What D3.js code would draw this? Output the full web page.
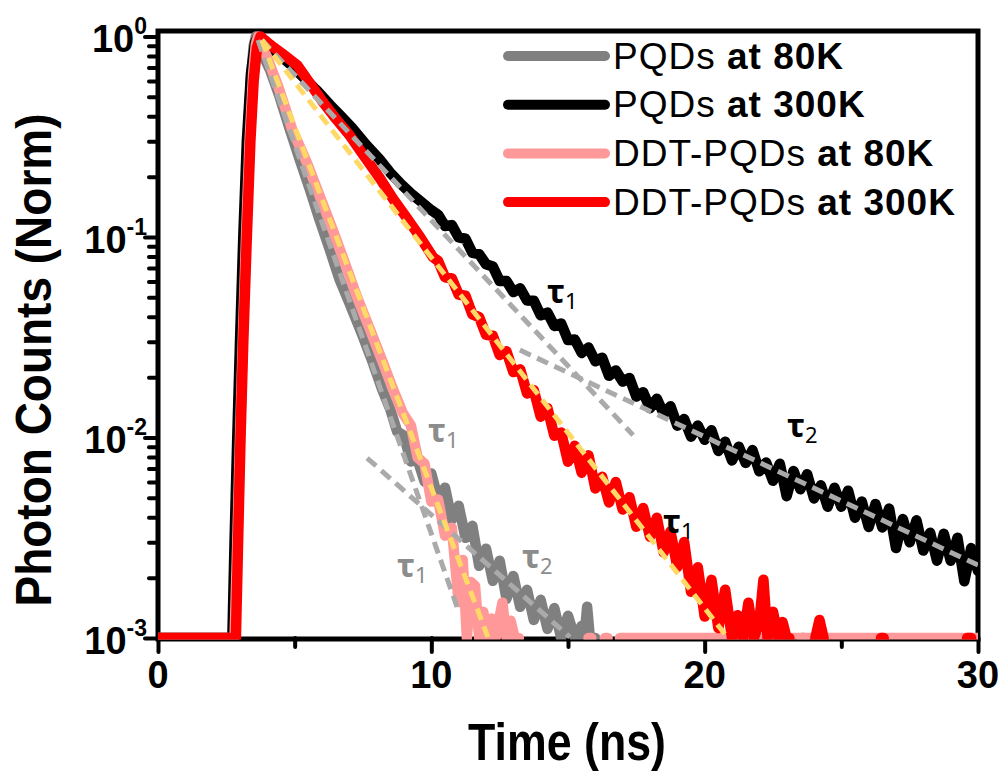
<!DOCTYPE html>
<meta charset="utf-8">
<style>
body { margin: 0; background: #fff; }
svg { display: block; }
</style>
<body>
<script src="https://d3js.org/d3.v7.min.js"></script>
<script>
// ---- data: [time (ns), normalised counts] ----
var pqd80 = [[0,0.001],[2.75,0.001],[2.85,0.003],[2.95,0.01],[3.05,0.03],[3.15,0.1],[3.28,0.3],[3.4,0.62],[3.5,0.9],[3.58,1.0],
  [3.8,0.83],[4.1,0.68],[4.45,0.5],[4.83,0.342],[5.2,0.24],[5.56,0.172],[5.9,0.123],[6.29,0.086],[6.65,0.061],[7.02,0.0462],
  [7.45,0.0331],[7.87,0.0234],[8.2,0.0174],[8.5,0.0138],[8.75,0.0107],[9.0,0.0102],[9.25,0.00759],[9.5,0.00776],[9.75,0.00603],
  [10.0,0.00661],[10.25,0.0049],[10.5,0.00562],[10.75,0.00389],[11.0,0.00457],[11.25,0.00316],[11.5,0.00363],[11.75,0.00229],
  [12.0,0.00279],[12.25,0.00193],[12.5,0.00243],[12.75,0.00157],[13.0,0.00204],[13.25,0.00143],[13.5,0.00174],[13.75,0.00123],
  [14.0,0.00155],[14.25,0.00111],[14.5,0.00141],[14.75,0.001],[15.0,0.00129],[15.25,0.001],[15.5,0.00115],[15.6,0.001],
  [15.7,0.00143],[15.8,0.001],[16.0,0.001],null,[23.55,0.001],[23.65,0.001]];

var pqd300 = [[0,0.001],[2.72,0.001],[2.8,0.003],[2.9,0.01],[3.0,0.03],[3.12,0.1],[3.25,0.3],[3.4,0.65],[3.55,0.93],[3.66,1.0],
  [3.9,0.955],[4.3,0.84],[4.83,0.73],[5.3,0.63],[5.8,0.54],[6.3,0.455],[6.66,0.405],[7.1,0.35],[7.6,0.29],[8.1,0.245],
  [8.5,0.209],[8.85,0.186],[9.25,0.165],[9.65,0.149],[10.0,0.136],
  [10.25,0.129],[10.5,0.1135],[10.75,0.1146],[11.0,0.0995],[11.25,0.098],[11.5,0.0834],[11.75,0.0822],[12.0,0.0731],
  [12.25,0.0713],[12.5,0.0604],[12.75,0.0603],[13.0,0.0531],[13.25,0.0555],[13.5,0.0482],[13.75,0.0481],[14.0,0.0407],
  [14.25,0.042],[14.5,0.036],[14.75,0.037],[15.0,0.0306],[15.25,0.0308],[15.5,0.0264],[15.75,0.0281],[16.0,0.024],
  [16.25,0.025],[16.5,0.0203],[16.75,0.0216],[17.0,0.019],[17.25,0.0198],[17.5,0.016],[17.75,0.0168],[18.0,0.014],
  [18.25,0.0156],[18.5,0.01315],[18.75,0.0143],[19.0,0.01146],[19.25,0.01236],[19.5,0.0101],[19.75,0.01146],[20.0,0.00975],
  [20.25,0.01086],[20.5,0.00857],[20.75,0.00953],[21.0,0.00769],[21.25,0.009],[21.5,0.00746],[21.75,0.00865],[22.0,0.00678],
  [22.25,0.0075],[22.5,0.00608],[22.75,0.0074],[23.0,0.0051],[23.25,0.00681],[23.5,0.00552],[23.75,0.00656],[24.0,0.00497],
  [24.25,0.00577],[24.5,0.00452],[24.75,0.00562],[25.0,0.00452],[25.25,0.00543],[25.5,0.00398],[25.75,0.00479],[26.0,0.00358],
  [26.25,0.00466],[26.5,0.00356],[26.75,0.00442],[27.0,0.00281],[27.25,0.00392],[27.5,0.003],[27.75,0.00386],[28.0,0.00273],
  [28.25,0.00335],[28.5,0.00243],[28.75,0.00331],[29.0,0.00243],[29.25,0.00316],[29.5,0.00192],[29.75,0.00281],[30.0,0.00216]];

var ddt80 = [[0,0.001],[2.8,0.001],[2.9,0.003],[3.0,0.01],[3.1,0.03],[3.22,0.1],[3.35,0.3],[3.48,0.65],[3.58,0.92],[3.66,1.0],
  [3.99,0.79],[4.4,0.562],[4.9,0.347],[5.45,0.234],[5.9,0.162],[6.4,0.108],[6.85,0.0733],[7.28,0.0502],[7.75,0.0347],
  [8.23,0.0236],[8.6,0.0174],[8.96,0.0132],[9.25,0.0115],[9.5,0.00794],[9.75,0.00741],[10.0,0.00479],[10.25,0.0049],
  [10.5,0.00324],[10.75,0.00355],[11.0,0.00151],[11.15,0.00245],[11.3,0.001],[11.45,0.0019],[11.6,0.00182],[11.75,0.001],
  [11.9,0.00135],[12.05,0.001],[12.2,0.00125],[12.35,0.001],[12.6,0.0015],[12.75,0.001],[12.9,0.00122],[13.05,0.001],
  [13.2,0.001],null,[15.75,0.001],[15.85,0.001],null,[16.35,0.001],[16.45,0.001],null,[16.9,0.001],[30,0.001]];

var ddt300 = [[0,0.001],[2.85,0.001],[2.93,0.003],[3.02,0.01],[3.12,0.03],[3.25,0.1],[3.38,0.3],[3.5,0.6],[3.62,0.88],[3.75,1.0],
  [4.0,0.933],[4.21,0.887],[4.6,0.81],[5.09,0.72],[5.5,0.6],[6.04,0.47],[6.5,0.39],[7.02,0.32],[7.5,0.258],[8.12,0.196],
  [8.6,0.155],[9.11,0.124],[9.6,0.0993],[10.06,0.0794],[10.25,0.0759],[10.5,0.063],[10.75,0.0622],[11.0,0.0516],[11.25,0.0509],
  [11.5,0.0411],[11.75,0.0398],[12.0,0.0325],[12.25,0.0322],[12.5,0.0258],[12.75,0.0269],[13.0,0.0212],[13.25,0.0219],
  [13.5,0.0166],[13.75,0.0172],[14.0,0.0127],[14.25,0.014],[14.5,0.0102],[14.75,0.0106],[15.0,0.00757],[15.25,0.0091],
  [15.5,0.00668],[15.75,0.00815],[16.0,0.00557],[16.25,0.00637],[16.5,0.00474],[16.75,0.006],[17.0,0.00437],[17.25,0.00504],
  [17.5,0.00359],[17.75,0.00445],[18.0,0.0032],[18.25,0.00398],[18.5,0.00267],[18.75,0.0034],[19.0,0.00226],[19.25,0.00301],
  [19.5,0.0017],[19.75,0.00225],[20.0,0.00128],[20.25,0.00195],[20.5,0.00112],[20.75,0.00174],[21.0,0.001],[21.2,0.0013],
  [21.4,0.001],[21.6,0.0015],[21.8,0.001],[22.0,0.0012],[22.15,0.00195],[22.3,0.001],[22.5,0.00135],[22.7,0.001],
  [22.85,0.0012],[23.0,0.001],[23.1,0.001],null,[24.05,0.001],[24.2,0.00123],[24.35,0.001],null,[26.45,0.001],[26.55,0.001],
  null,[29.6,0.001],[29.75,0.001]];

// single-exponential fits, [start, end]
var grayTau1Fit  = [[3.66,0.96],[10.94,0.00143]];
var grayTau2Fit  = [[7.65,0.0079],[15.07,0.00101]];
var blackTau1Fit = [[3.8,0.96],[17.38,0.01028]];
var blackTau2Fit = [[13.24,0.0273],[30,0.00231]];
var pinkFit      = [[3.8,0.96],[12.07,0.00101]];
var redFit       = [[3.8,0.96],[20.85,0.001]];

var seriesNames = ["PQDs", "PQDs", "DDT-PQDs", "DDT-PQDs"];
var seriesTemps = ["at 80K", "at 300K", "at 80K", "at 300K"];
var seriesColors = ["#808080", "#000000", "#ff9999", "#ff0000"];

var tauLabels = [
  {sub: "1", t: 14.23, v: 0.0469,  color: "#000"},
  {sub: "2", t: 23.01, v: 0.01005, color: "#000"},
  {sub: "1", t: 18.48, v: 0.00334, color: "#000"},
  {sub: "1", t: 9.88,  v: 0.0095,  color: "#8c8c8c"},
  {sub: "1", t: 8.74,  v: 0.00201, color: "#8c8c8c"},
  {sub: "2", t: 13.32, v: 0.00223, color: "#8c8c8c"}
];

var xMajor = [0, 10, 20, 30], xMinor = [5, 15, 25];
var yMajor = [1e-3, 1e-2, 1e-1, 1], yExp = ["-3", "-2", "-1", "0"];
var yMinor = [];
[1e-3, 1e-2, 1e-1].forEach(function(p) { for (var k = 2; k < 10; k++) yMinor.push(p * k); });

// ---- drawing ----
var svg = d3.select("body").append("svg").attr("width", 1006).attr("height", 772);
var x = d3.scaleLinear().domain([0, 30]).range([158, 978]);
var y = d3.scaleLog().domain([1e-3, 1.065]).range([638, 31]);

svg.append("clipPath").attr("id", "clip").append("rect")
  .attr("x", 158).attr("y", 31).attr("width", 820).attr("height", 608.5);

// frame
svg.append("rect").attr("x", 158).attr("y", 31).attr("width", 820).attr("height", 608)
  .attr("fill", "none").attr("stroke", "#000").attr("stroke-width", 5);

function tickAxis(axis, g) {
  g.call(axis);
  g.select(".domain").remove();
  g.selectAll(".tick line").attr("stroke", "#000").attr("stroke-width", 4).attr("stroke-linecap", "round");
  g.selectAll(".tick text").remove();
}
tickAxis(d3.axisBottom(x).tickValues(xMinor).tickSize(9), svg.append("g").attr("transform", "translate(0,638)"));
tickAxis(d3.axisBottom(x).tickValues(xMajor).tickSize(14), svg.append("g").attr("transform", "translate(0,638)"));
tickAxis(d3.axisLeft(y).tickValues(yMinor).tickSize(9), svg.append("g").attr("transform", "translate(158,0)"));
tickAxis(d3.axisLeft(y).tickValues(yMajor).tickSize(13), svg.append("g").attr("transform", "translate(158,0)"));

svg.append("g").selectAll("text").data(xMajor).join("text")
  .attr("x", function(d) { return x(d); }).attr("y", 688)
  .attr("text-anchor", "middle")
  .style("font", "bold 38px 'Liberation Sans', Arial, sans-serif")
  .text(function(d) { return d; });

var yl = svg.append("g").selectAll("text").data(yMajor).join("text")
  .attr("x", 147).attr("y", function(d) { return y(d) + 16; })
  .attr("text-anchor", "end")
  .style("font", "bold 38px 'Liberation Sans', Arial, sans-serif");
yl.append("tspan").text("10");
yl.append("tspan").attr("dy", -18).style("font-size", "23px").text(function(d, i) { return yExp[i]; });

// axis titles
svg.append("text").attr("transform", "translate(567,760) scale(0.86,1)")
  .attr("text-anchor", "middle")
  .style("font", "bold 52px 'Liberation Sans', Arial, sans-serif")
  .text("Time (ns)");
svg.append("text").attr("transform", "translate(51,360) rotate(-90) scale(0.92,1)")
  .attr("text-anchor", "middle")
  .style("font", "bold 50px 'Liberation Sans', Arial, sans-serif")
  .text("Photon Counts (Norm)");

// data curves
var line = d3.line().defined(function(d) { return d !== null; })
  .x(function(d) { return x(d[0]); }).y(function(d) { return y(d[1]); });
var plot = svg.append("g").attr("clip-path", "url(#clip)");
[pqd80, pqd300, ddt80, ddt300].forEach(function(s, i) {
  plot.append("path").datum(s).attr("d", line)
    .attr("fill", "none").attr("stroke", seriesColors[i]).attr("stroke-width", 10.5)
    .attr("stroke-linejoin", "round").attr("stroke-linecap", "round");
});

// fits
[[grayTau1Fit, "#aaaaaa"], [grayTau2Fit, "#aaaaaa"], [blackTau1Fit, "#aaaaaa"], [blackTau2Fit, "#aaaaaa"],
 [pinkFit, "#ffd966"], [redFit, "#ffd966"]].forEach(function(f) {
  plot.append("path").datum(f[0]).attr("d", line)
    .attr("fill", "none").attr("stroke", f[1]).attr("stroke-width", 5)
    .attr("stroke-dasharray", "12,7");
});

// tau labels
var tl = svg.append("g").selectAll("text").data(tauLabels).join("text")
  .attr("x", function(d) { return x(d.t); }).attr("y", function(d) { return y(d.v); })
  .attr("fill", function(d) { return d.color; })
  .style("font-family", "'Noto Sans', 'Open Sans', sans-serif").style("font-weight", "bold");
tl.append("tspan").style("font-size", "33px").text("τ");
tl.append("tspan").attr("dy", 6).style("font-size", "22px").style("font-weight", "normal").text(function(d) { return d.sub; });

// legend
var lg = svg.append("g").selectAll("g").data(seriesNames).join("g")
  .attr("transform", function(d, i) { return "translate(0," + (56 + i * 48.7) + ")"; });
lg.append("line").attr("x1", 508).attr("x2", 605)
  .attr("stroke", function(d, i) { return seriesColors[i]; })
  .attr("stroke-width", 10).attr("stroke-linecap", "round");
var lt = lg.append("text").attr("x", 613).attr("y", 12.5)
  .style("font", "37px 'Liberation Sans', Arial, sans-serif").style("letter-spacing", "1px");
lt.append("tspan").text(function(d) { return d + " "; });
lt.append("tspan").style("font-weight", "bold").text(function(d, i) { return seriesTemps[i]; });
</script>
</body>
